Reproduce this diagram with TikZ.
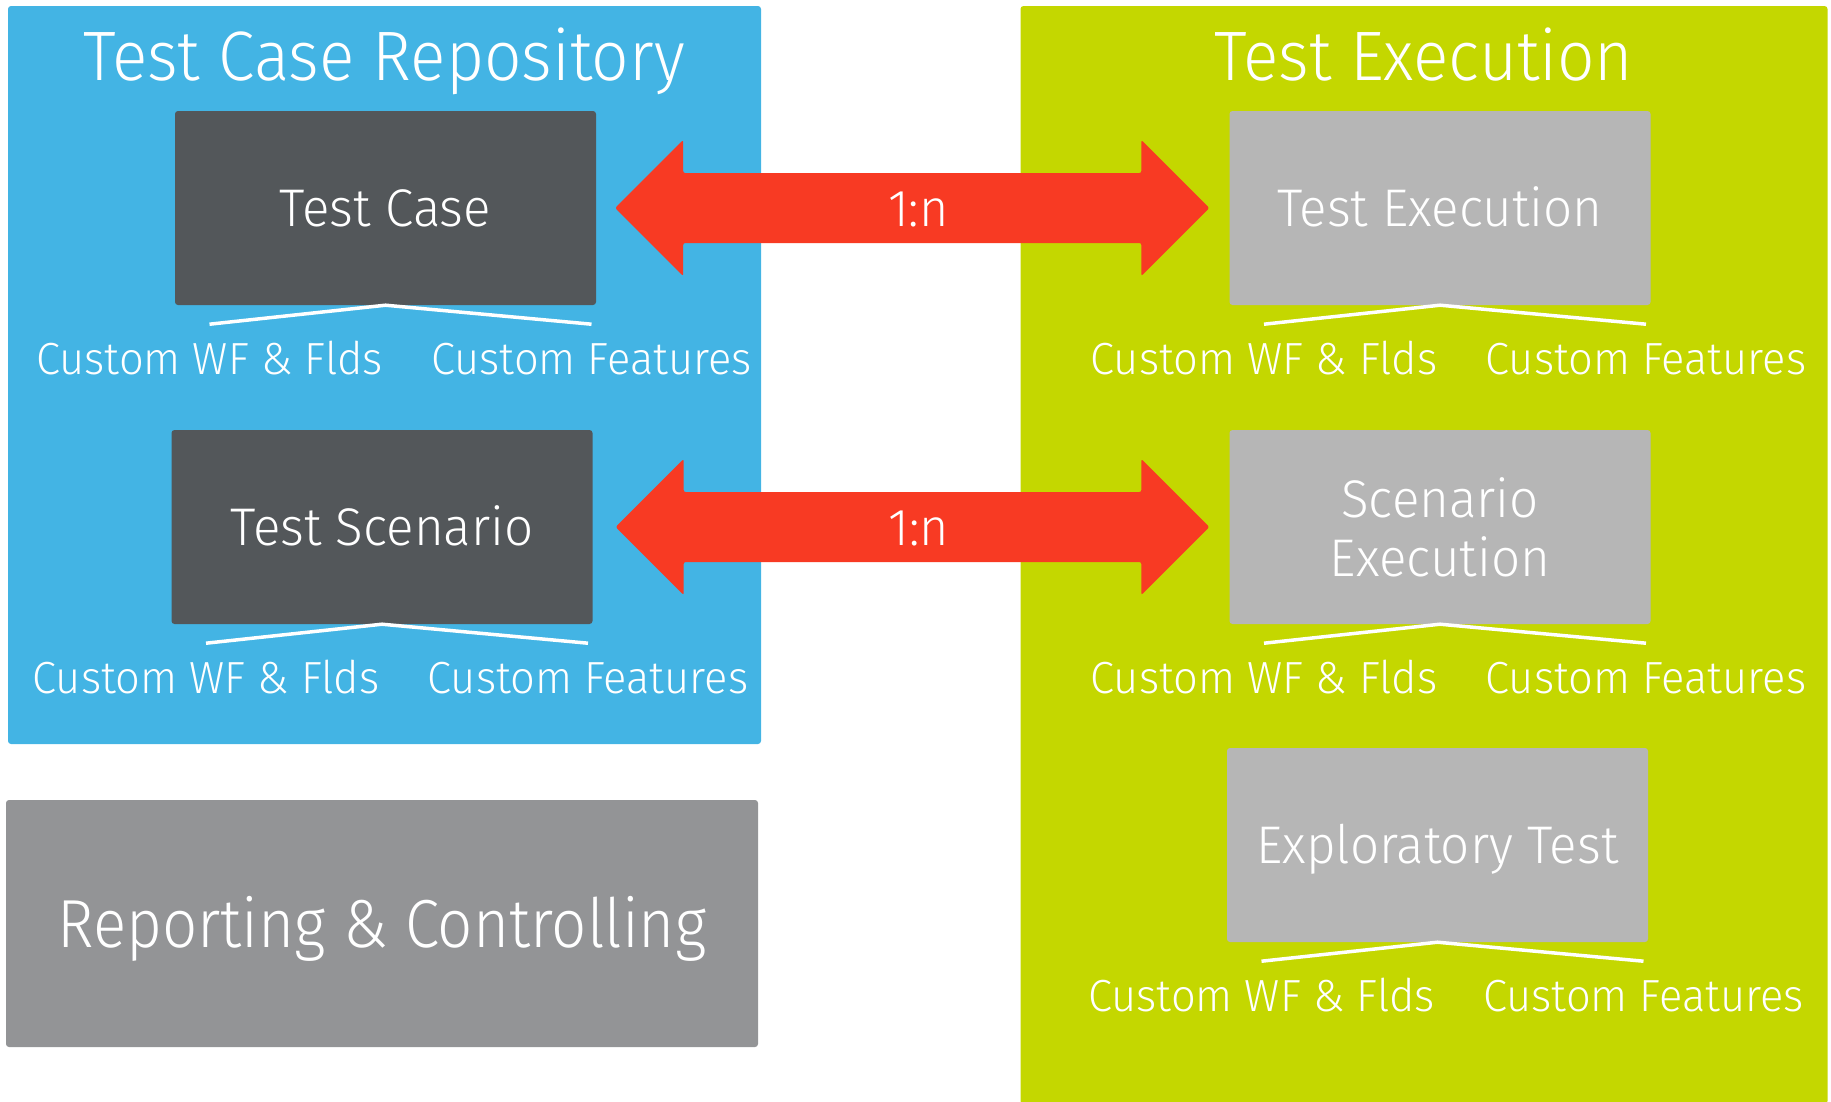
\documentclass[tikz,border=0pt]{standalone}
\usepackage{fontspec}
\setmainfont{Fira Sans}[UprightFont=* Light,FakeStretch=0.965]
\newfontfamily\titlefont{Fira Sans}[UprightFont=* Light,FakeStretch=0.94]
\newfontfamily\reportfont{Fira Sans}[UprightFont=* Light,FakeStretch=0.91]
\usetikzlibrary{calc}

\definecolor{repoblue}{RGB}{67,180,228}
\definecolor{execgreen}{RGB}{196,215,0}
\definecolor{darkbox}{RGB}{83,87,90}
\definecolor{lightbox}{RGB}{182,182,182}
\definecolor{reportgray}{RGB}{147,148,150}
\definecolor{linkred}{RGB}{248,58,35}

\tikzstyle{panel} = [rounded corners=3pt,inner sep=0pt,text=white]
\tikzstyle{paneltitle} = [text=white,anchor=base,font=\titlefont\fontsize{70}{80}\selectfont]
\tikzstyle{block} = [rounded corners=3pt,minimum width=421pt,minimum height=194pt,
                     inner sep=0pt,text=white,align=center,
                     font=\fontsize{53}{59}\selectfont]
\tikzstyle{oneline} = [text height=36pt,text depth=0pt]
\tikzstyle{repo} = [block,fill=darkbox]
\tikzstyle{exec} = [block,fill=lightbox]
\tikzstyle{fork} = [draw=white,line width=3.5pt]
\tikzstyle{feat} = [text=white,anchor=base,font=\fontsize{45}{54}\selectfont]
\tikzstyle{link} = [fill=linkred,rounded corners=2pt]
\tikzstyle{linklabel} = [text=white,inner sep=0pt,text height=36pt,text depth=0pt,
                         font=\fontsize{52}{60}\selectfont]

\begin{document}
\begin{tikzpicture}[x=1pt,y={(0pt,-1pt)}]
  \useasboundingbox (0,0) rectangle (1831,1101);

  \node[panel,fill=repoblue,minimum width=753pt,minimum height=738pt] at (384.5,375) (repo) {};
  \node[panel,fill=execgreen,minimum width=807pt,minimum height=1098pt] at (1424,555) (execpanel) {};
  \node[panel,fill=reportgray,minimum width=752pt,minimum height=247pt,
        text height=47pt,text depth=0pt,font=\reportfont\fontsize{68}{78}\selectfont]
        at (382,923.5) (report) {Reporting \& Controlling};

  \node[paneltitle] at (384,80) (repotitle) {Test Case Repository};
  \node[paneltitle] at (1424,80) (exectitle) {Test Execution};

  \node[repo,oneline] at (385.5,208) (tcase) {Test Case};
  \node[repo,oneline] at (382,527) (tscen) {Test Scenario};
  \node[exec,oneline] at (1440,208) (texec) {Test Execution};
  \node[exec] at (1440,527) (sexec) {Scenario\\Execution};
  \node[exec,oneline] at (1437.5,845) (explo) {Exploratory Test};

  \draw[fork] ($(tcase.south)+(-176,19)$) coordinate (tcase-l) -- (tcase.south)
              -- ($(tcase.south)+(206,19)$) coordinate (tcase-r);
  \draw[fork] ($(tscen.south)+(-176,19)$) coordinate (tscen-l) -- (tscen.south)
              -- ($(tscen.south)+(206,19)$) coordinate (tscen-r);
  \draw[fork] ($(texec.south)+(-176,19)$) coordinate (texec-l) -- (texec.south)
              -- ($(texec.south)+(206,19)$) coordinate (texec-r);
  \draw[fork] ($(sexec.south)+(-176,19)$) coordinate (sexec-l) -- (sexec.south)
              -- ($(sexec.south)+(206,19)$) coordinate (sexec-r);
  \draw[fork] ($(explo.south)+(-176,19)$) coordinate (explo-l) -- (explo.south)
              -- ($(explo.south)+(206,19)$) coordinate (explo-r);

  \node[feat] at ($(tcase-l)+(0,50)$) (tcasewf) {Custom WF \& Flds};
  \node[feat] at ($(tcase-r)+(0,50)$) (tcasecf) {Custom Features};
  \node[feat] at ($(tscen-l)+(0,50)$) (tscenwf) {Custom WF \& Flds};
  \node[feat] at ($(tscen-r)+(0,50)$) (tscencf) {Custom Features};
  \node[feat] at ($(texec-l)+(0,50)$) (texecwf) {Custom WF \& Flds};
  \node[feat] at ($(texec-r)+(0,50)$) (texeccf) {Custom Features};
  \node[feat] at ($(sexec-l)+(0,50)$) (sexecwf) {Custom WF \& Flds};
  \node[feat] at ($(sexec-r)+(0,50)$) (sexeccf) {Custom Features};
  \node[feat] at ($(explo-l)+(0,50)$) (explowf) {Custom WF \& Flds};
  \node[feat] at ($(explo-r)+(0,50)$) (explocf) {Custom Features};

  \coordinate (l1) at ([xshift=19pt]tcase.east);
  \coordinate (r1) at ([xshift=-20pt]texec.west);
  \coordinate (l2) at ([xshift=23pt]tscen.east);
  \coordinate (r2) at ([xshift=-20pt]sexec.west);
  \fill[link] (l1) -- ++(68,-68) -- ++(0,33) -- ($(r1)+(-68,-35)$) -- ++(0,-33)
    -- (r1) -- ++(-68,68) -- ++(0,-33) -- ($(l1)+(68,35)$) -- ++(0,33) -- cycle;
  \fill[link] (l2) -- ++(68,-68) -- ++(0,33) -- ($(r2)+(-68,-35)$) -- ++(0,-33)
    -- (r2) -- ++(-68,68) -- ++(0,-33) -- ($(l2)+(68,35)$) -- ++(0,33) -- cycle;
  \node[linklabel] at ([xshift=6pt]$(l1)!0.5!(r1)$) (ratio1) {1:n};
  \node[linklabel] at ([xshift=6pt]$(l2)!0.5!(r2)$) (ratio2) {1:n};
\end{tikzpicture}
\end{document}
